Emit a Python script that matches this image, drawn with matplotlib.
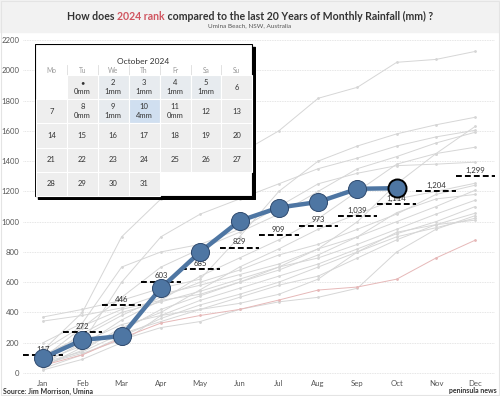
import matplotlib
matplotlib.use('Agg')
import matplotlib.pyplot as plt
from matplotlib.patches import Rectangle

plt.rcParams['font.family'] = ['Lato', 'DejaVu Sans']

months = ['Jan', 'Feb', 'Mar', 'Apr', 'May', 'Jun', 'Jul', 'Aug', 'Sep', 'Oct', 'Nov', 'Dec']

# cumulative rainfall 2024 (to October)
rain_2024 = [100, 218, 244, 561, 800, 1005, 1093, 1130, 1217, 1221]
# average cumulative of the last 20 years
avg_cum = [117, 272, 446, 603, 685, 829, 909, 973, 1039, 1114, 1204, 1299]

# past years (cumulative)
past_1 = [150, 400, 900, 1150, 1300, 1450, 1600, 1815, 1888, 2053, 2072, 2125]
past_2 = [370, 420, 480, 560, 620, 900, 1200, 1400, 1500, 1580, 1640, 1690]
past_3 = [343, 380, 430, 520, 580, 650, 720, 820, 1000, 1250, 1450, 1630]
past_4 = [60, 200, 600, 900, 1050, 1150, 1250, 1350, 1420, 1500, 1560, 1604]
past_5 = [100, 300, 500, 700, 820, 930, 1050, 1200, 1350, 1430, 1520, 1591]
past_6 = [80, 180, 350, 480, 640, 760, 880, 1020, 1200, 1380, 1450, 1492]
past_7 = [200, 330, 700, 800, 850, 950, 1100, 1250, 1320, 1370, 1380, 1393]
past_8 = [50, 150, 300, 400, 550, 700, 820, 950, 1050, 1150, 1200, 1254]
past_9 = [120, 240, 380, 500, 600, 680, 780, 850, 950, 1050, 1180, 1241]
past_10 = [40, 170, 280, 420, 510, 600, 700, 820, 900, 1000, 1100, 1208]
past_11 = [90, 260, 400, 470, 540, 620, 700, 760, 850, 950, 1050, 1142]
past_12 = [70, 140, 260, 340, 420, 500, 580, 640, 760, 880, 980, 1056]
past_13 = [30, 120, 240, 360, 450, 520, 600, 700, 800, 900, 960, 1023]
past_14 = [110, 200, 320, 380, 420, 460, 520, 620, 800, 930, 980, 1010]
past_15 = [60, 130, 220, 300, 340, 420, 470, 500, 560, 800, 950, 1040]
past_16 = [150, 310, 420, 480, 520, 600, 680, 780, 900, 1060, 1150, 1180]
past_17 = [20, 90, 200, 380, 480, 560, 640, 720, 820, 920, 1000, 1100]
past_red = [50, 120, 230, 330, 380, 420, 482, 548, 568, 620, 760, 878]
past_years = [past_1, past_2, past_3, past_4, past_5, past_6, past_7, past_8, past_9,
              past_10, past_11, past_12, past_13, past_14, past_15, past_16, past_17]

# October 2024 calendar
cal_title = 'October 2024'
weekdays = ['Mo', 'Tu', 'We', 'Th', 'Fr', 'Sa', 'Su']
first_col = 1  # Oct 1 is a Tuesday
n_days = 31
daily_mm = {1: 0, 2: 1, 3: 1, 4: 1, 5: 1, 8: 0, 9: 1, 10: 4, 11: 0}
day_labels = {1: '\u2022'}

W, H = 500, 396
fig = plt.figure(figsize=(W / 100, H / 100), dpi=100)
fig.patch.set_facecolor('white')

# header band
fig.patches.append(Rectangle((0, 1 - 32 / H), 1, 32 / H, transform=fig.transFigure,
                             color='#f2f2f2', zorder=0))
fig.patches.append(Rectangle((0.002, 0.002), 0.995, 0.995, transform=fig.transFigure,
                             fill=False, ec='#e4e4e4', lw=0.8, zorder=0))

ax = fig.add_axes([23.4 / W, 1 - 376 / H, 471.6 / W, 340.5 / H])
ax.set_facecolor('white')
x = list(range(12))

for yr in past_years:
    ax.plot(x, yr, color='#d6d6d6', lw=0.7, marker='o', ms=1.0, zorder=1)
ax.plot(x, past_red, color='#e6b8b8', lw=0.7, marker='o', ms=1.0, zorder=1)

for i, v in enumerate(avg_cum):
    ax.plot([i - 0.5, i + 0.5], [v, v], color='black', lw=1.4, ls=(0, (3, 1.6)), zorder=3)
    ax.text(i, v + 38, f'{v:,}', ha='center', va='center', fontsize=5.6, color='#333333', zorder=3.5)

x24 = x[:len(rain_2024)]
ax.plot(x24, rain_2024, color='#4e76a3', lw=3.2, zorder=4)
ax.plot(x24[:-1], rain_2024[:-1], ls='none', marker='o', ms=13, mfc='#4e76a3',
        mec='#2f4a6e', mew=0.7, zorder=5)
ax.plot(x24[-1:], rain_2024[-1:], ls='none', marker='o', ms=13, mfc='#4e76a3',
        mec='black', mew=1.4, zorder=5)

ax.set_xlim(-0.5, 11.5)
ax.set_ylim(-20, 2230)
ax.set_xticks(x)
ax.set_xticklabels(months)
ax.set_yticks(range(0, 2201, 200))
ax.tick_params(length=0, labelsize=5.6, colors='#555555', pad=3)
ax.yaxis.grid(True, color='#dddddd', lw=0.6, ls=(0, (1, 1)))
ax.set_axisbelow(True)
for s in ax.spines.values():
    s.set_visible(False)

# title in three coloured pieces
fig.canvas.draw()
r = fig.canvas.get_renderer()
parts = [('How does ', '#333333'), ('2024 rank', '#d05560'),
         (' compared to the last 20 Years of Monthly Rainfall (mm) ?', '#333333')]
texts = [fig.text(0, 1 - 16 / H, p, fontsize=7.6, fontweight='bold', color=c, va='center')
         for p, c in parts]
widths = [t.get_window_extent(r).width for t in texts]
xpos = (W - sum(widths)) / 2
for t, w in zip(texts, widths):
    t.set_x(xpos / W)
    xpos += w
fig.text(0.5, 1 - 26 / H, 'Umina Beach, NSW, Australia', ha='center', va='center',
         fontsize=4.6, color='#555555')

fig.text(3 / W, 1 - 391 / H, 'Source: Jim Morrison, Umina', fontsize=5.0, fontweight='bold',
         color='#333333', va='center')
fig.text(497 / W, 1 - 391 / H, 'peninsula news', fontsize=5.0, fontweight='bold',
         color='#333333', va='center', ha='right')

# calendar inset, in pixel coordinates
cax = fig.add_axes([35 / W, 1 - 200 / H, 221 / W, 156 / H])
cax.set_xlim(35, 256)
cax.set_ylim(200, 44)
cax.axis('off')
cax.add_patch(Rectangle((38, 47), 217, 152, color='black', zorder=0))
cax.add_patch(Rectangle((35, 44), 217, 152, fc='white', ec='black', lw=0.8, zorder=1))
cax.text(143.5, 61, cal_title, ha='center', va='center', fontsize=6, color='#333333', zorder=3)

cw, rh = 30.9, 24.2
x0, y0 = 36, 75
for c, wd in enumerate(weekdays):
    cx = x0 + c * cw
    cax.text(cx + cw / 2, 70.5, wd, ha='center', va='center', fontsize=4.8, color='#999999', zorder=3)
    if c > 0:
        cax.plot([cx, cx], [65, 75], color='#dddddd', lw=0.6, zorder=2)

for d in range(1, n_days + 1):
    pos = first_col + d - 1
    row, col = divmod(pos, 7)
    cx, cy = x0 + col * cw, y0 + row * rh
    mm = daily_mm.get(d)
    if mm is None or mm == 0:
        fc = '#eeeeee'
    elif mm < 2:
        fc = '#e7ebef'
    else:
        fc = '#d0dff0'
    cax.add_patch(Rectangle((cx, cy), cw, rh, fc=fc, ec='white', lw=0.8, zorder=2))
    lab = day_labels.get(d, str(d))
    if mm is None:
        cax.text(cx + cw / 2, cy + rh / 2, lab, ha='center', va='center', fontsize=5.5,
                 color='#333333', zorder=3)
    else:
        cax.text(cx + cw / 2, cy + rh / 2 - 4.5, lab, ha='center', va='center', fontsize=5.5,
                 color='#333333', zorder=3)
        cax.text(cx + cw / 2, cy + rh / 2 + 4.5, f'{mm}mm', ha='center', va='center', fontsize=5.5,
                 color='#333333', zorder=3)

plt.savefig('out.png', dpi=100)
